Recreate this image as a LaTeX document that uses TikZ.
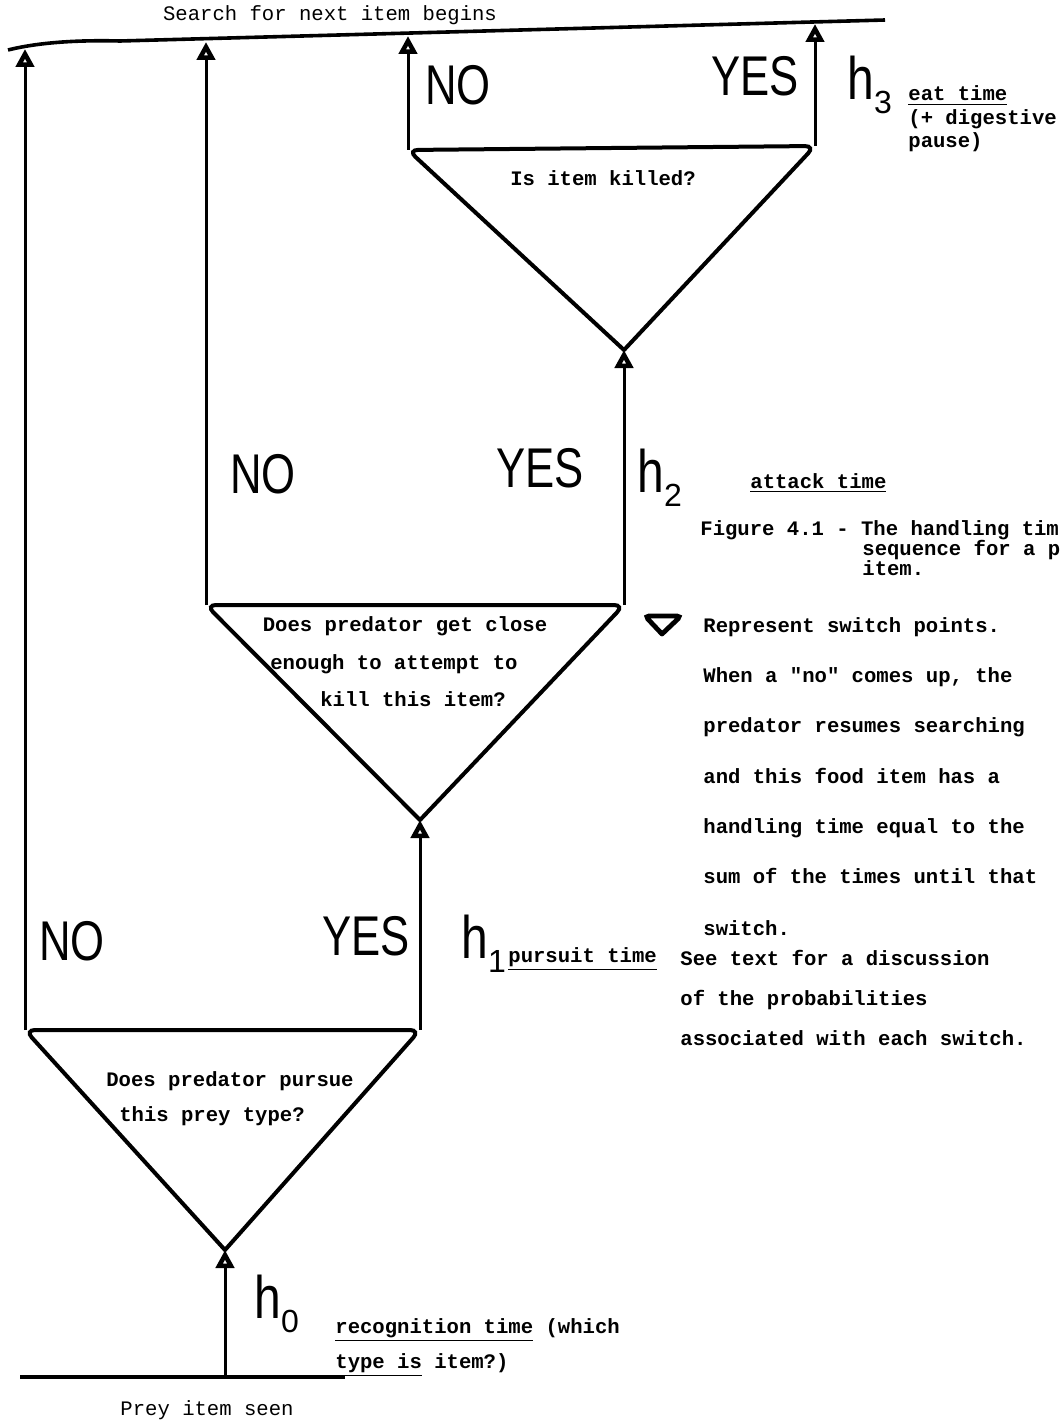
\documentclass[tikz,border=0pt]{standalone}
\usepackage{fontspec}
\setmonofont{Liberation Mono}
\setsansfont{Liberation Sans}
\usetikzlibrary{arrows.meta}

% big label with a subscript, as in h_1
\newcommand{\hlab}[1]{\scalebox{0.8}[1]{h}\raisebox{-7pt}{\fontsize{16}{16}\selectfont #1}}
\newcommand{\narrow}[1]{\scalebox{0.78}[1]{#1}}

\begin{document}
\begin{tikzpicture}[x=0.5pt, y=-0.5pt,
        base/.style={line width=1.8pt},
        flow/.style={line width=1.5pt, -{Triangle[open, length=9pt, width=9pt, line width=2.4pt]}},
        switchpt/.style={line width=2pt, rounded corners=5pt, line cap=round},
        answer/.style={font=\sffamily\fontsize{28}{28}\selectfont, inner sep=0pt, anchor=base},
        hname/.style={font=\sffamily\fontsize{30}{30}\selectfont, inner sep=0pt, anchor=base west},
        typed/.style={font=\ttfamily\bfseries\fontsize{10.3}{12}\selectfont, inner sep=0pt, anchor=base},
        note/.style={typed, anchor=base west}
    ]
    \useasboundingbox (0,0) rectangle (1062,1423);

    % start and end lines
    \coordinate (topL) at (8,50);
    \coordinate (topR) at (885,20);
    \draw[base] (topL) .. controls (40,42) and (80,40) .. (120,41) -- (topR);
    \node[typed, font=\ttfamily\fontsize{10.3}{12}\selectfont] (search) at (330,21) {Search for next item begins};
    \coordinate (botL) at (20,1377);
    \coordinate (botR) at (345,1377);
    \coordinate (seen) at (225,1377);
    \draw[base] (botL) -- (botR);
    \node[typed, font=\ttfamily\fontsize{10.3}{12}\selectfont] (prey) at (207,1415) {Prey item seen};

    % ends of the arrows on the top line
    \coordinate (end0) at (25,49);
    \coordinate (end1) at (206,42);
    \coordinate (end2) at (408,36);
    \coordinate (end3) at (815,24);

    % switch points
    \coordinate (s1L) at (25,1030);
    \coordinate (s1R) at (420,1030);
    \coordinate (s1A) at (225,1250);
    \coordinate (s2L) at (206,605);
    \coordinate (s2R) at (624,605);
    \coordinate (s2A) at (420,820);
    \coordinate (s3L) at (408,150);
    \coordinate (s3R) at (815,146);
    \coordinate (s3A) at (624,350);
    \draw[switchpt] (s1A) -- (s1L) -- (s1R) -- (s1A);
    \draw[switchpt] (s2A) -- (s2L) -- (s2R) -- (s2A);
    \draw[switchpt] (s3A) -- (s3L) -- (s3R) -- (s3A);

    \node[typed] (q1a) at (230,1086) {Does predator pursue};
    \node[typed] (q1b) at (212,1121) {this prey type?};
    \node[typed] (q2a) at (405,631) {Does predator get close};
    \node[typed] (q2b) at (394,669) {enough to attempt to};
    \node[typed] (q2c) at (413,706) {kill this item?};
    \node[typed] (q3) at (603,186) {Is item killed?};

    % connectors
    \draw[flow] (seen) -- (s1A);
    \draw[flow] (s1L) -- (end0);
    \draw[flow] (s1R) -- (s2A);
    \draw[flow] (s2L) -- (end1);
    \draw[flow] (s2R) -- (s3A);
    \draw[flow] (s3L) -- (end2);
    \draw[flow] (s3R) -- (end3);

    % answers and times
    \node[answer] (no1) at (72,960) {\narrow{NO}};
    \node[answer] (yes1) at (366,955) {\narrow{YES}};
    \node[answer] (no2) at (263,493) {\narrow{NO}};
    \node[answer] (yes2) at (540,487) {\narrow{YES}};
    \node[answer] (no3) at (458,105) {\narrow{NO}};
    \node[answer] (yes3) at (755,96) {\narrow{YES}};

    \node[hname] (h0) at (254,1318) {\hlab{0}};
    \node[hname] (h1) at (461,958) {\hlab{1}};
    \node[hname] (h2) at (637,492) {\hlab{2}};
    \node[hname] (h3) at (847,100) {\hlab{3}};

    \node[note] (t0a) at (335,1333) {\underline{recognition time} (which};
    \node[note] (t0b) at (335,1368) {\underline{type is} item?)};
    \node[note] (t1) at (508,962) {\underline{pursuit time}};
    \node[note] (t2) at (750,488) {\underline{attack time}};
    \node[note] (t3a) at (908,101) {\underline{eat time}};
    \node[note] (t3b) at (908,125) {(+ digestive};
    \node[note] (t3c) at (908,148) {pause)};

    % caption and key
    \node[note] (fig) at (700,535) {Figure 4.1 - The handling tim};
    \node[note] (figb) at (862,555) {sequence for a p};
    \node[note] (figc) at (862,575) {item.};
    \coordinate (kL) at (645,616);
    \coordinate (kR) at (681,616);
    \coordinate (kA) at (662,634);
    \draw[switchpt, line width=2.4pt, rounded corners=2pt] (kA) -- (kL) -- (kR) -- (kA);
    \node[note] (k1) at (703,632) {Represent switch points.};
    \node[note] (k2) at (703,682) {When a "no" comes up, the};
    \node[note] (k3) at (703,732) {predator resumes searching};
    \node[note] (k4) at (703,783) {and this food item has a};
    \node[note] (k5) at (703,833) {handling time equal to the};
    \node[note] (k6) at (703,883) {sum of the times until that};
    \node[note] (k7) at (703,935) {switch.};
    \node[note] (s1) at (680,965) {See text for a discussion};
    \node[note] (s2) at (680,1005) {of the probabilities};
    \node[note] (s3) at (680,1045) {associated with each switch.};
\end{tikzpicture}
\end{document}
